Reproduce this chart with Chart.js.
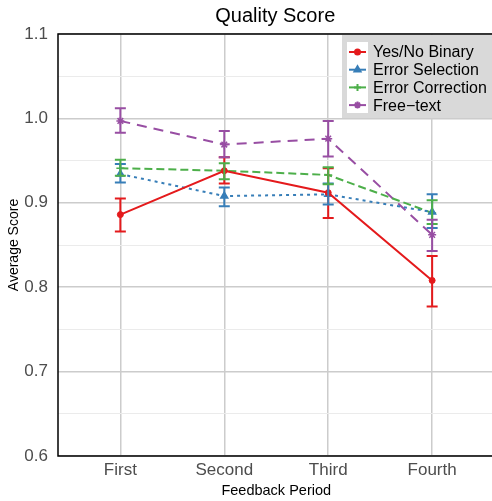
<!DOCTYPE html>
<html>
<head>
<meta charset="utf-8">
<script src="https://cdn.jsdelivr.net/npm/chart.js@4/dist/chart.umd.min.js"></script>
<style>
  html, body { margin: 0; padding: 0; overflow: hidden; background: #fff; }
  #wrap { width: 500px; height: 501px; position: relative; }
</style>
</head>
<body>
<div id="wrap"><canvas id="chartQuality"></canvas></div>
<script>
// categorias e séries
const periods = ['First', 'Second', 'Third', 'Fourth'];
const seriesNames = ['Yes/No Binary', 'Error Selection', 'Error Correction', 'Free\u2212text'];

const yesNoMean = [0.886, 0.938, 0.912, 0.808];
const yesNoLow  = [0.866, 0.923, 0.882, 0.777];
const yesNoHigh = [0.905, 0.954, 0.941, 0.837];

const selMean = [0.934, 0.908, 0.910, 0.889];
const selLow  = [0.924, 0.896, 0.898, 0.870];
const selHigh = [0.946, 0.918, 0.923, 0.910];

const corMean = [0.941, 0.938, 0.933, 0.888];
const corLow  = [0.932, 0.928, 0.922, 0.875];
const corHigh = [0.951, 0.947, 0.942, 0.903];

const freeMean = [0.997, 0.969, 0.976, 0.862];
const freeLow  = [0.983, 0.954, 0.955, 0.843];
const freeHigh = [1.012, 0.985, 0.997, 0.880];

const yTicks = [0.6, 0.65, 0.7, 0.75, 0.8, 0.85, 0.9, 0.95, 1.0, 1.05, 1.1];

const FONT = '"Liberation Sans", Arial, sans-serif';
const colors = ['#E41A1C', '#377EB8', '#4DAF4A', '#984EA3'];
const dashes = [[], [3, 4], [8, 4], [10, 7]];
const markers = ['circle', 'triangle', 'cross', 'star'];

const means = [yesNoMean, selMean, corMean, freeMean];
const lows = [yesNoLow, selLow, corLow, freeLow];
const highs = [yesNoHigh, selHigh, corHigh, freeHigh];

const datasets = seriesNames.map((name, s) => ({
    label: name,
    data: means[s].map((v, i) => ({ x: i, y: v })),
    low: lows[s],
    high: highs[s],
    borderColor: colors[s],
    backgroundColor: colors[s],
    borderWidth: 2,
    borderDash: dashes[s],
    pointStyle: markers[s],
    pointRadius: s === 0 ? 3 : 4,
    pointBorderWidth: s === 0 ? 1 : 1.5,
    tension: 0
}));

// barras de erro
const errorBars = {
    id: 'errorBars',
    afterDatasetsDraw(chart) {
        const ctx = chart.ctx;
        const yScale = chart.scales.y;
        ctx.save();
        chart.data.datasets.forEach((ds, s) => {
            const meta = chart.getDatasetMeta(s);
            ctx.strokeStyle = ds.borderColor;
            ctx.lineWidth = 2;
            ctx.setLineDash([]);
            meta.data.forEach((pt, i) => {
                const yl = yScale.getPixelForValue(ds.low[i]);
                const yh = yScale.getPixelForValue(ds.high[i]);
                ctx.beginPath();
                ctx.moveTo(pt.x, yl); ctx.lineTo(pt.x, yh);
                ctx.moveTo(pt.x - 5.5, yl); ctx.lineTo(pt.x + 5.5, yl);
                ctx.moveTo(pt.x - 5.5, yh); ctx.lineTo(pt.x + 5.5, yh);
                ctx.stroke();
            });
        });
        ctx.restore();
    }
};

// título, moldura e legenda interna
const panelLegend = {
    id: 'panelLegend',
    afterDraw(chart) {
        const ctx = chart.ctx;
        const a = chart.chartArea;
        ctx.save();
        ctx.fillStyle = '#000';
        ctx.font = '20px ' + FONT;
        ctx.textAlign = 'center';
        ctx.textBaseline = 'middle';
        ctx.fillText('Quality Score', (a.left + a.right) / 2 - 1, 16);

        ctx.strokeStyle = '#000';
        ctx.lineWidth = 1.5;
        ctx.setLineDash([]);
        ctx.strokeRect(a.left, a.top, a.right - a.left, a.bottom - a.top);

        ctx.fillStyle = '#d9d9d9';
        ctx.fillRect(342, 35, 160, 83);
        ctx.fillStyle = '#ffffff';
        ctx.fillRect(347, 42, 21, 71);
        ctx.font = '16px ' + FONT;
        ctx.textAlign = 'left';
        chart.data.datasets.forEach((ds, s) => {
            const y = 52 + s * 17.7;
            ctx.strokeStyle = ds.borderColor;
            ctx.fillStyle = ds.borderColor;
            ctx.lineWidth = 2;
            ctx.beginPath();
            ctx.moveTo(349, y); ctx.lineTo(366, y);
            ctx.stroke();
            Chart.helpers.drawPoint(ctx, {
                pointStyle: ds.pointStyle, radius: s === 0 ? 2.5 : 3.5, borderWidth: 1.5
            }, 357.5, y);
            ctx.fillStyle = '#000';
            ctx.fillText(ds.label, 373, y + 1);
        });
        ctx.restore();
    }
};

const ctx = document.getElementById('chartQuality').getContext('2d');
new Chart(ctx, {
    type: 'line',
    data: { datasets: datasets },
    options: {
        responsive: true,
        maintainAspectRatio: false,
        animation: false,
        layout: { padding: { right: 2, top: 34, left: 0, bottom: 0 } },
        plugins: {
            legend: { display: false },
            tooltip: { enabled: false },
            title: { display: false }
        },
        scales: {
            x: {
                type: 'linear',
                min: -0.6,
                max: 3.6,
                afterBuildTicks: (scale) => { scale.ticks = periods.map((p, i) => ({ value: i })); },
                afterFit: (scale) => { scale.height = 45; },
                border: { display: false },
                grid: { color: '#cccccc', lineWidth: 1.5, drawTicks: false },
                ticks: {
                    padding: 4,
                    color: '#4d4d4d',
                    font: { size: 17, family: FONT },
                    callback: (v) => periods[v] !== undefined ? periods[v] : ''
                },
                title: {
                    display: true,
                    text: 'Feedback Period',
                    color: '#000',
                    padding: { top: 0, bottom: 1 },
                    font: { size: 14.5, family: FONT }
                }
            },
            y: {
                min: 0.6,
                max: 1.1,
                afterBuildTicks: (scale) => { scale.ticks = yTicks.map(v => ({ value: v })); },
                afterFit: (scale) => { scale.width = 58; },
                border: { display: false },
                grid: {
                    drawTicks: false,
                    color: (c) => (c.index % 2 === 0 ? '#cccccc' : '#ebebeb'),
                    lineWidth: (c) => (c.index % 2 === 0 ? 1.5 : 1)
                },
                ticks: {
                    padding: 10,
                    color: '#4d4d4d',
                    font: { size: 17, family: FONT },
                    callback: (v, i) => (i % 2 === 0 ? v.toFixed(1) : '')
                },
                title: {
                    display: true,
                    text: 'Average Score',
                    color: '#000',
                    padding: { top: 6, bottom: 0 },
                    font: { size: 14, family: FONT }
                }
            }
        }
    },
    plugins: [errorBars, panelLegend]
});
</script>
</body>
</html>
